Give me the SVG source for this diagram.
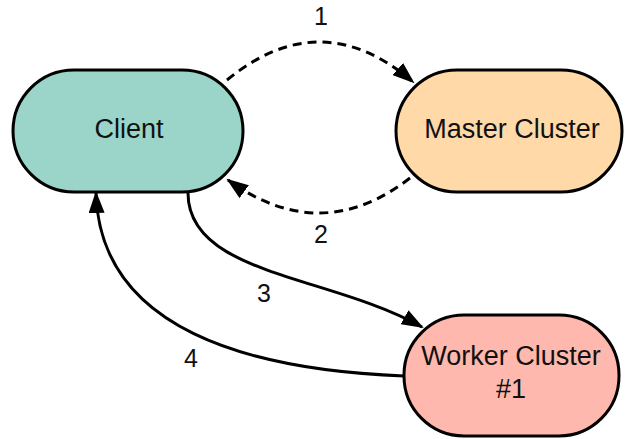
<svg xmlns="http://www.w3.org/2000/svg" width="626" height="439" viewBox="0 0 626 439">
  <style>
    .node { stroke: #000; stroke-width: 3; }
    .label { font-family: "Liberation Sans", Arial, sans-serif; font-size: 27px; fill: #111; text-anchor: middle; }
    .num { font-family: "Liberation Sans", Arial, sans-serif; font-size: 25px; fill: #111; text-anchor: middle; }
    .edge { fill: none; stroke: #000; stroke-width: 3; }
    .dash { stroke-dasharray: 9 6; }
  </style>
  <defs>
    <marker id="arrow" markerUnits="userSpaceOnUse" markerWidth="24" markerHeight="16" refX="20" refY="8" orient="auto">
      <path d="M0,0 L22,8 L0,16 z" fill="#000"/>
    </marker>
  </defs>

  <g id="connectors">
    <path class="edge dash" d="M227,80 Q321,3 413,82" marker-end="url(#arrow)"/>
    <path class="edge dash" d="M410,178 Q321,247 228,180" marker-end="url(#arrow)"/>
    <path class="edge" d="M188,193 C188,275 330,275 422,327" marker-end="url(#arrow)"/>
    <path class="edge" d="M404,376 C250,370 100,330 96,193" marker-end="url(#arrow)"/>
    <text class="num" x="321" y="25">1</text>
    <text class="num" x="321" y="243">2</text>
    <text class="num" x="264" y="302">3</text>
    <text class="num" x="191" y="367">4</text>
  </g>

  <g id="client">
    <rect class="node" x="13" y="70" width="230" height="122" rx="61" fill="#9BD4C8"/>
    <text class="label" x="129" y="138">Client</text>
  </g>

  <g id="master-cluster">
    <rect class="node" x="396" y="70" width="226" height="122" rx="61" fill="#FFD9A8"/>
    <text class="label" x="512" y="138">Master Cluster</text>
  </g>

  <g id="worker-cluster-1">
    <rect class="node" x="404" y="315" width="215" height="121" rx="60" fill="#FFB8AE"/>
    <text class="label" x="511" y="365">Worker Cluster</text>
    <text class="label" x="511" y="398">#1</text>
  </g>
</svg>
